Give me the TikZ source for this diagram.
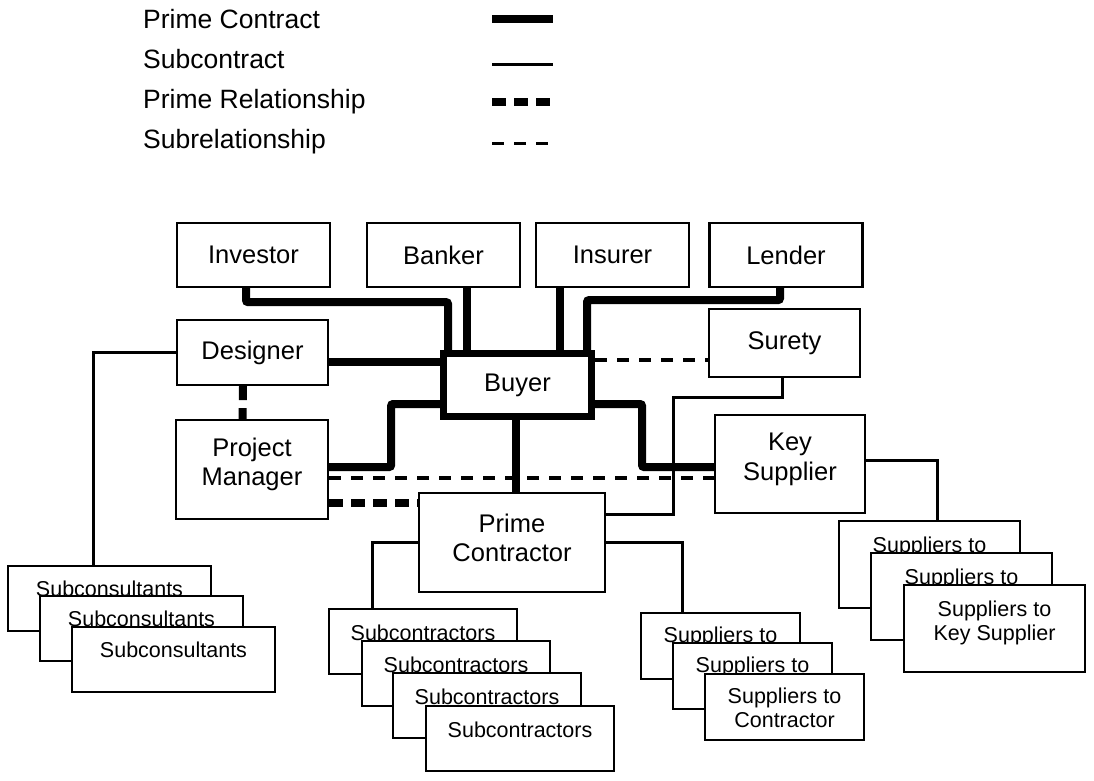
\documentclass[tikz,border=0pt]{standalone}
\usepackage{fontspec}
\setmainfont{Liberation Sans}

\begin{document}
\begin{tikzpicture}[x=1pt, y=-1pt,
    box/.style={draw, line width=2.2pt, fill=white, inner sep=0pt, align=center,
        minimum width=153pt, minimum height=64pt, font=\fontsize{25.5}{29.5}\selectfont},
    sheet/.style={draw, line width=2.2pt, fill=white, inner sep=0pt},
    sheettext/.style={inner sep=0pt, align=center, font=\fontsize{21.5}{24}\selectfont},
    keytext/.style={anchor=base west, inner sep=0pt, font=\fontsize{26.5}{30}\selectfont},
    contract/.style={line width=8pt, rounded corners=2pt},
    subcontract/.style={line width=3pt},
    primerel/.style={line width=8pt, dash pattern=on 14pt off 8pt},
    subrel/.style={line width=3.5pt, dash pattern=on 12pt off 10pt}]

    \useasboundingbox (0,0) rectangle (1094,780);

    % Legend
    \node[keytext] (kprime) at (143,28) {Prime Contract};
    \node[keytext] (ksub) at (143,68) {Subcontract};
    \node[keytext] (kprimerel) at (143,108) {Prime Relationship};
    \node[keytext] (ksubrel) at (143,148) {Subrelationship};
    \draw[contract] (492,18.5) -- (553,18.5);
    \draw[subcontract] (492,64) -- (553,64);
    \draw[primerel] (492,101.5) -- (552,101.5);
    \draw[subrel] (492,143.5) -- (552,143.5);

    % Top row
    \node[box] (investor) at (253.5,255) {Investor};
    \node[box] (banker) at (443.5,255) {Banker};
    \node[box] (insurer) at (612.5,255) {Insurer};
    \node[box] (lender) at (786,255) {Lender};

    % Middle parties round the buyer
    \node[box, minimum width=151pt, minimum height=65pt] (designer) at (252.5,352.5) {Designer};
    \node[box, minimum width=151pt, minimum height=68pt] (surety) at (784.5,343) {Surety};
    \node[box, line width=7pt, minimum width=148pt, minimum height=63pt] (buyer) at (517.5,385) {Buyer};
    \node[box, text depth=15pt, minimum width=152pt, minimum height=99pt] (manager) at (252,469.5) {Project\\Manager};
    \node[box, text depth=15pt, minimum width=150pt, minimum height=98pt] (keysup) at (790,464) {Key\\Supplier};
    \node[box, text depth=10pt, minimum width=186pt, minimum height=99pt] (primec) at (512,542.5) {Prime\\Contractor};

    % Subconsultants: 3 sheets
    \node[sheet, minimum width=203pt, minimum height=65pt] (subcons1) at (109.5,598.5) {};
    \node[sheettext] at ([yshift=-24pt]subcons1.north) {Subconsultants};
    \node[sheet, minimum width=203pt, minimum height=65pt] (subcons2) at (141.5,628.5) {};
    \node[sheettext] at ([yshift=-24pt]subcons2.north) {Subconsultants};
    \node[sheet, minimum width=203pt, minimum height=65pt] (subcons3) at (173.5,659.5) {};
    \node[sheettext] at ([yshift=-24pt]subcons3.north) {Subconsultants};

    % Subcontractors: 4 sheets
    \node[sheet, minimum width=188pt, minimum height=65pt] (subcon1) at (423,641.5) {};
    \node[sheettext] at ([yshift=-25pt]subcon1.north) {Subcontractors};
    \node[sheet, minimum width=188pt, minimum height=65pt] (subcon2) at (456,673.5) {};
    \node[sheettext] at ([yshift=-25pt]subcon2.north) {Subcontractors};
    \node[sheet, minimum width=188pt, minimum height=65pt] (subcon3) at (487,705.5) {};
    \node[sheettext] at ([yshift=-25pt]subcon3.north) {Subcontractors};
    \node[sheet, minimum width=188pt, minimum height=65pt] (subcon4) at (520,738.5) {};
    \node[sheettext] at ([yshift=-25pt]subcon4.north) {Subcontractors};

    % Suppliers to the prime contractor: 3 sheets
    \node[sheet, minimum width=159pt, minimum height=66pt] (supcon1) at (720.5,646) {};
    \node[sheettext] at ([yshift=-25pt]supcon1.north) {Suppliers to};
    \node[sheet, minimum width=159pt, minimum height=66pt] (supcon2) at (752.5,676) {};
    \node[sheettext] at ([yshift=-25pt]supcon2.north) {Suppliers to};
    \node[sheet, minimum width=159pt, minimum height=66pt] (supcon3) at (784.5,707) {};
    \node[sheettext] at ([yshift=-35pt]supcon3.north) {Suppliers to\\Contractor};

    % Suppliers to the key supplier: 3 sheets
    \node[sheet, minimum width=181pt, minimum height=87pt] (supkey1) at (929.5,564.5) {};
    \node[sheettext] at ([yshift=-27pt]supkey1.north) {Suppliers to};
    \node[sheet, minimum width=181pt, minimum height=87pt] (supkey2) at (961.5,596.5) {};
    \node[sheettext] at ([yshift=-27pt]supkey2.north) {Suppliers to};
    \node[sheet, minimum width=181pt, minimum height=87pt] (supkey3) at (994.5,628.5) {};
    \node[sheettext] at ([yshift=-39pt]supkey3.north) {Suppliers to\\Key Supplier};

    % Prime contracts
    \draw[contract] ([xshift=-7.5pt]investor.south) -- ++(0,14) -| ([xshift=-69.5pt]buyer.north);
    \draw[contract] ([xshift=23.5pt]banker.south) -- ([xshift=23.5pt]banker.south |- buyer.north);
    \draw[contract] ([xshift=-52.5pt]insurer.south) -- ([xshift=-52.5pt]insurer.south |- buyer.north);
    \draw[contract] ([xshift=-6pt]lender.south) -- ++(0,12) -| ([xshift=69.5pt]buyer.north);
    \draw[contract] ([yshift=-9.5pt]designer.east) -- ([yshift=-9.5pt]designer.east -| buyer.west);
    \draw[contract] ([yshift=2.5pt]manager.east) -- ++(62,0) |- ([yshift=-19pt]buyer.west);
    \draw[contract] ([yshift=-19pt]buyer.east) -- ++(47,0) |- ([yshift=-3pt]keysup.west);
    \draw[contract] ([xshift=-1.5pt]buyer.south) -- ([xshift=-1.5pt]buyer.south |- primec.north);

    % Subcontracts
    \draw[subcontract] (designer.west) -| ([xshift=-16.5pt]subcons1.north);
    \draw[subcontract] ([xshift=-2.5pt]surety.south) -- ++(0,19) -- ++(-109,0) |- ([yshift=28.5pt]primec.east);
    \draw[subcontract] ([yshift=4pt]keysup.east) -| ([xshift=7.5pt]supkey1.north);
    \draw[subcontract] (primec.west) -| ([xshift=-51pt]subcon1.north);
    \draw[subcontract] (primec.east) -| ([xshift=-38.5pt]supcon1.north);

    % Relationships
    \draw[primerel] ([xshift=-9.5pt]designer.south) -- ([xshift=-9.5pt]manager.north);
    \draw[primerel] ([yshift=-33.5pt]manager.east) -- ([yshift=-33.5pt]manager.east -| primec.west);
    \draw[subrel] ([yshift=25pt]buyer.east) -- ([yshift=25pt]buyer.east -| surety.west);
    \draw[subrel] ([yshift=-8.5pt]manager.east) -- ([yshift=-8.5pt]manager.east -| keysup.west);

\end{tikzpicture}
\end{document}
